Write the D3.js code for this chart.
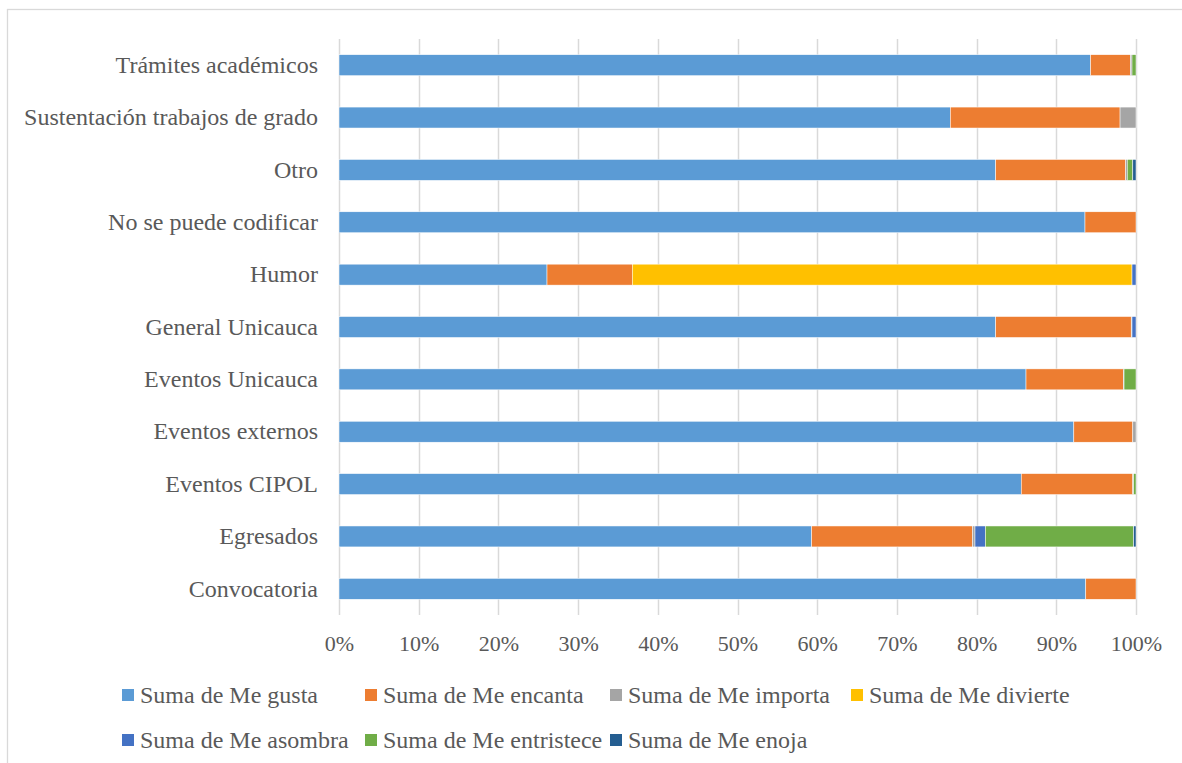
<!DOCTYPE html>
<html>
<head>
<meta charset="utf-8">
<script src="https://cdn.jsdelivr.net/npm/d3@7"></script>
<style>
  body { margin: 0; background: #fff; }
  svg { display: block; }
  text { font-family: "Liberation Serif", "Times New Roman", serif; fill: #595959; }
</style>
</head>
<body>
<div id="chart"></div>
<script>
// categorie dall'alto verso il basso
var categories = ["Trámites académicos", "Sustentación trabajos de grado", "Otro",
  "No se puede codificar", "Humor", "General Unicauca", "Eventos Unicauca",
  "Eventos externos", "Eventos CIPOL", "Egresados", "Convocatoria"];

var seriesNames = ["Suma de Me gusta", "Suma de Me encanta", "Suma de Me importa",
  "Suma de Me divierte", "Suma de Me asombra", "Suma de Me entristece", "Suma de Me enoja"];

var seriesColors = ["#5B9BD5", "#ED7D31", "#A5A5A5", "#FFC000", "#4472C4", "#70AD47", "#255E91"];

// percentuali per serie, stesso ordine delle categorie
var meGusta      = [94.3, 76.7, 82.4, 93.6, 26.1, 82.4, 86.2, 92.2, 85.6, 59.3, 93.7];
var meEncanta    = [5.0, 21.3, 16.3, 6.4, 10.7, 17.0, 12.2, 7.4, 14.0, 20.2, 6.3];
var meImporta    = [0.2, 2.0, 0.2, 0, 0, 0.1, 0.1, 0.4, 0.1, 0.3, 0];
var meDivierte   = [0, 0, 0, 0, 62.7, 0, 0, 0, 0, 0, 0];
var meAsombra    = [0, 0, 0, 0, 0.5, 0.5, 0, 0, 0, 1.3, 0];
var meEntristece = [0.5, 0, 0.7, 0, 0, 0, 1.5, 0, 0.3, 18.6, 0];
var meEnoja      = [0, 0, 0.4, 0, 0, 0, 0, 0, 0, 0.3, 0];

var tickLabels = ["0%", "10%", "20%", "30%", "40%", "50%", "60%", "70%", "80%", "90%", "100%"];

var allSeries = [meGusta, meEncanta, meImporta, meDivierte, meAsombra, meEntristece, meEnoja];

var width = 1182, height = 763;
var margin = { left: 339, right: 46, top: 39, bottom: 148 };

var svg = d3.select("#chart").append("svg")
  .attr("width", width)
  .attr("height", height);

// bordo del grafico
svg.append("rect")
  .attr("x", 7.5).attr("y", 9.5)
  .attr("width", 1190).attr("height", 800)
  .attr("fill", "none")
  .attr("stroke", "#d9d9d9")
  .attr("stroke-width", 1.3);

// tabella per d3.stack
var rows = categories.map(function (c, i) {
  var r = { name: c };
  seriesNames.forEach(function (s, j) {
    r[s] = allSeries[j][i];
  });
  var tot = d3.sum(seriesNames, function (s) { return r[s]; });
  seriesNames.forEach(function (s) { r[s] = r[s] / tot; });
  return r;
});

var x = d3.scaleLinear()
  .domain([0, 1])
  .range([margin.left, width - margin.right]);

var y = d3.scaleBand()
  .domain(categories)
  .range([margin.top, height - margin.bottom])
  .paddingInner(0.6)
  .paddingOuter(0.3);

var ticks = d3.range(0, 1.0001, 0.1);

// griglia verticale
svg.append("g")
  .selectAll("line")
  .data(ticks)
  .enter()
  .append("line")
  .attr("x1", function (d) { return Math.round(x(d)) + 0.5; })
  .attr("x2", function (d) { return Math.round(x(d)) + 0.5; })
  .attr("y1", margin.top)
  .attr("y2", height - margin.bottom)
  .attr("stroke", "#d9d9d9")
  .attr("stroke-width", 1.5);

// barre impilate
var stack = d3.stack().keys(seriesNames);
var layers = stack(rows);

svg.append("g")
  .selectAll("g")
  .data(layers)
  .enter()
  .append("g")
  .attr("fill", function (d, i) { return seriesColors[i]; })
  .selectAll("rect")
  .data(function (d) { return d; })
  .enter()
  .append("rect")
  .attr("x", function (d) { return x(d[0]); })
  .attr("width", function (d) { return Math.max(0, x(d[1]) - x(d[0])); })
  .attr("y", function (d) { return y(d.data.name); })
  .attr("height", y.bandwidth())
  .attr("stroke", "#fff")
  .attr("stroke-width", function (d) { return x(d[1]) - x(d[0]) > 0 ? 0.5 : 0; });

// asse x
var xAxis = d3.axisBottom(x)
  .tickValues(ticks)
  .tickFormat(function (d, i) { return tickLabels[i]; })
  .tickSize(0)
  .tickPadding(20);

var gx = svg.append("g")
  .attr("transform", "translate(0," + (height - margin.bottom) + ")")
  .call(xAxis);
gx.select(".domain").remove();
gx.selectAll("text")
  .style("font-size", "22px")
  .attr("fill", "#595959");

// asse y
var yAxis = d3.axisLeft(y).tickSize(0).tickPadding(21);
var gy = svg.append("g")
  .attr("transform", "translate(" + margin.left + ",0)")
  .call(yAxis);
gy.select(".domain").remove();
gy.selectAll("text")
  .style("font-size", "24px")
  .attr("fill", "#595959");

// legenda
var legendX = [122, 365, 610, 851];
var legendY = [695, 740];

var legend = svg.append("g")
  .selectAll("g")
  .data(seriesNames)
  .enter()
  .append("g")
  .attr("transform", function (d, i) {
    return "translate(" + legendX[i % 4] + "," + legendY[Math.floor(i / 4)] + ")";
  });

legend.append("rect")
  .attr("x", 0)
  .attr("y", -6)
  .attr("width", 12)
  .attr("height", 12)
  .attr("fill", function (d, i) { return seriesColors[i]; });

legend.append("text")
  .attr("x", 18)
  .attr("y", 0)
  .attr("dy", "0.35em")
  .style("font-size", "24px")
  .text(function (d) { return d; });
</script>
</body>
</html>
